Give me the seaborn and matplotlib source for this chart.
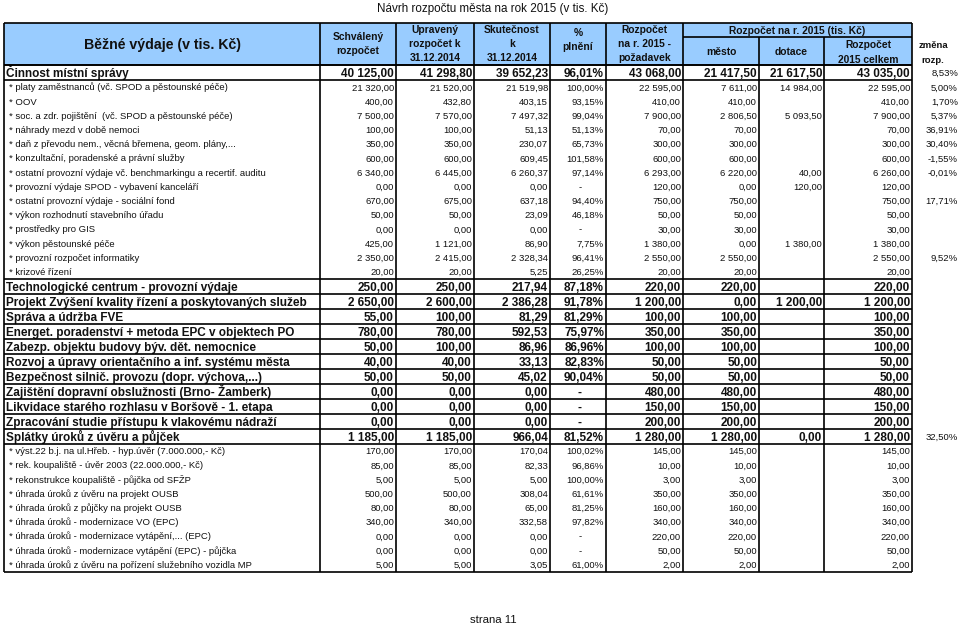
import matplotlib
matplotlib.use("Agg")
import matplotlib.pyplot as plt
import seaborn as sns
import pandas as pd

sns.set_theme(style="white")
plt.rcParams['font.family'] = ['Liberation Sans', 'DejaVu Sans']

# ---------------- data ----------------
labels = [
    "Činnost místní správy",
    "* platy zaměstnanců (vč. SPOD a pěstounské péče)",
    "* OOV",
    "* soc. a zdr. pojištění  (vč. SPOD a pěstounské péče)",
    "* náhrady mezd v době nemoci",
    "* daň z převodu nem., věcná břemena, geom. plány,...",
    "* konzultační, poradenské a právní služby",
    "* ostatní provozní výdaje vč. benchmarkingu a recertif. auditu",
    "* provozní výdaje SPOD - vybavení kanceláří",
    "* ostatní provozní výdaje - sociální fond",
    "* výkon rozhodnutí stavebního úřadu",
    "* prostředky pro GIS",
    "* výkon pěstounské péče",
    "* provozní rozpočet informatiky",
    "* krizové řízení",
    "Technologické centrum - provozní výdaje",
    "Projekt Zvýšení kvality řízení a poskytovaných služeb",
    "Správa a údržba FVE",
    "Energet. poradenství + metoda EPC v objektech PO",
    "Zabezp. objektu budovy býv. dět. nemocnice",
    "Rozvoj a úpravy orientačního a inf. systému města",
    "Bezpečnost silnič. provozu (dopr. výchova,...)",
    "Zajištění dopravní obslužnosti (Brno- Žamberk)",
    "Likvidace starého rozhlasu v Boršově - 1. etapa",
    "Zpracování studie přístupu k vlakovému nádraží",
    "Splátky úroků z úvěru a půjček",
    "* výst.22 b.j. na ul.Hřeb. - hyp.úvěr (7.000.000,- Kč)",
    "* rek. koupaliště - úvěr 2003 (22.000.000,- Kč)",
    "* rekonstrukce koupaliště - půjčka od SFŽP",
    "* úhrada úroků z úvěru na projekt OUSB",
    "* úhrada úroků z půjčky na projekt OUSB",
    "* úhrada úroků - modernizace VO (EPC)",
    "* úhrada úroků - modernizace vytápění,... (EPC)",
    "* úhrada úroků - modernizace vytápění (EPC) - půjčka",
    "* úhrada úroků z úvěru na pořízení služebního vozidla MP",
]
schvaleny = [40125.00, 21320, 400, 7500, 100, 350, 600, 6340, 0, 670, 50, 0, 425, 2350, 20,
             250, 2650, 55, 780, 50, 40, 50, 0, 0, 0, 1185,
             170, 85, 5, 500, 80, 340, 0, 0, 5]
upraveny = [41298.80, 21520, 432.80, 7570, 100, 350, 600, 6445, 0, 675, 50, 0, 1121, 2415, 20,
            250, 2600, 100, 780, 100, 40, 50, 0, 0, 0, 1185,
            170, 85, 5, 500, 80, 340, 0, 0, 5]
skutecnost = [39652.23, 21519.98, 403.15, 7497.32, 51.13, 230.07, 609.45, 6260.37, 0, 637.18, 23.09, 0,
              86.90, 2328.34, 5.25,
              217.94, 2386.28, 81.29, 592.53, 86.96, 33.13, 45.02, 0, 0, 0, 966.04,
              170.04, 82.33, 5.00, 308.04, 65.00, 332.58, 0, 0, 3.05]
plneni = [96.01, 100.00, 93.15, 99.04, 51.13, 65.73, 101.58, 97.14, None, 94.40, 46.18, None, 7.75, 96.41, 26.25,
          87.18, 91.78, 81.29, 75.97, 86.96, 82.83, 90.04, None, None, None, 81.52,
          100.02, 96.86, 100.00, 61.61, 81.25, 97.82, None, None, 61.00]
pozadavek = [43068.00, 22595, 410, 7900, 70, 300, 600, 6293, 120, 750, 50, 30, 1380, 2550, 20,
             220, 1200, 100, 350, 100, 50, 50, 480, 150, 200, 1280,
             145, 10, 3, 350, 160, 340, 220, 50, 2]
mesto = [21417.50, 7611, 410, 2806.50, 70, 300, 600, 6220, 0, 750, 50, 30, 0, 2550, 20,
         220, 0, 100, 350, 100, 50, 50, 480, 150, 200, 1280,
         145, 10, 3, 350, 160, 340, 220, 50, 2]
dotace = [21617.50, 14984, None, 5093.50, None, None, None, 40, 120, None, None, None, 1380, None, None,
          None, 1200, None, None, None, None, None, None, None, None, 0.00,
          None, None, None, None, None, None, None, None, None]
celkem = [43035.00, 22595, 410, 7900, 70, 300, 600, 6260, 120, 750, 50, 30, 1380, 2550, 20,
          220, 1200, 100, 350, 100, 50, 50, 480, 150, 200, 1280,
          145, 10, 3, 350, 160, 340, 220, 50, 2]
zmena = [8.53, 5.00, 1.70, 5.37, 36.91, 30.40, -1.55, -0.01, None, 17.71, None, None, None, 9.52, None,
         None, None, None, None, None, None, None, None, None, None, 32.50,
         None, None, None, None, None, None, None, None, None]

# row kinds (B = bold group row, S = detail row)
kinds = ['B'] + ['S'] * 14 + ['B'] * 11 + ['S'] * 9

df = pd.DataFrame({
    "label": labels, "schvaleny": schvaleny, "upraveny": upraveny,
    "skutecnost": skutecnost, "plneni": plneni, "pozadavek": pozadavek,
    "mesto": mesto, "dotace": dotace, "celkem": celkem, "zmena": zmena, "kind": kinds,
})

# ---------------- layout ----------------
col_x = [4, 320, 396, 474, 550, 606, 683, 759, 824, 912]
head_top, head_bot, head_mid = 23, 65, 37
row_h = {'B': 15.0, 'S': 14.2}
HEAD_BLUE = '#99CCFF'
INK = '#111111'


def fmt_num(v):
    if v is None or pd.isna(v):
        return ""
    s = f"{v:,.2f}"
    return s.replace(",", " ").replace(".", ",")


def fmt_pct(v):
    if v is None or pd.isna(v):
        return "-"
    return f"{v:.2f}%".replace(".", ",")


fig = plt.figure(figsize=(9.6, 6.26), dpi=100)
ax = fig.add_axes([0, 0, 1, 1])
ax.set_xlim(0, 960)
ax.set_ylim(626, 0)
ax.axis('off')


def txt(x, yc, s, fs, ha='left', weight='normal'):
    """Place text so that its cap height is centred on yc (baseline alignment)."""
    off = fs * 100 / 72 * 0.716 / 2
    ax.text(x, yc + off, s, ha=ha, va='baseline', fontsize=fs, fontweight=weight, color=INK)


# title and footer
txt(493, 8, "Návrh rozpočtu města na rok 2015 (v tis. Kč)", 8.4, ha='center')
txt(493, 619, "strana 11", 8.2, ha='center')

# header background
ax.fill_between([col_x[0], col_x[-1]], head_top, head_bot, color=HEAD_BLUE, zorder=0, linewidth=0)

hfs = 7.4
txt((col_x[0] + col_x[1]) / 2, 44, "Běžné výdaje (v tis. Kč)", 10.2, ha='center', weight='bold')
header_cells = [
    (1, ["Schválený", "rozpočet"], [36, 50]),
    (2, ["Upravený", "rozpočet k", "31.12.2014"], [29, 43, 57]),
    (3, ["Skutečnost", "k", "31.12.2014"], [29, 43, 57]),
    (4, ["%", "plnění"], [32, 46]),
    (5, ["Rozpočet", "na r. 2015 -", "požadavek"], [29, 43, 57]),
    (6, ["město"], [51]),
    (7, ["dotace"], [51]),
    (8, ["Rozpočet", "2015 celkem"], [44, 59]),
]
for ci, lines, ys in header_cells:
    cx = (col_x[ci] + col_x[ci + 1]) / 2
    for t, y in zip(lines, ys):
        txt(cx, y, t, hfs, ha='center', weight='bold')
txt((col_x[6] + col_x[9]) / 2, 30, "Rozpočet na r. 2015 (tis. Kč)", hfs, ha='center', weight='bold')
txt(933, 45, "změna", 6.8, ha='center', weight='bold')
txt(933, 60, "rozp.", 6.8, ha='center', weight='bold')

# rows
lw_out = 1.2
y = head_bot
row_tops = []
for i, r in df.iterrows():
    h = row_h[r['kind']]
    top = y
    cy = top + h / 2
    row_tops.append(top)
    bold = r['kind'] == 'B'
    fs = 8.5 if bold else 6.8
    fw = 'bold' if bold else 'normal'
    lx = col_x[0] + 2 if bold else col_x[0] + 5
    txt(lx, cy, r['label'], fs, weight=fw)
    for ci, key in [(1, 'schvaleny'), (2, 'upraveny'), (3, 'skutecnost'), (5, 'pozadavek'),
                    (6, 'mesto'), (7, 'dotace'), (8, 'celkem')]:
        txt(col_x[ci + 1] - 2, cy, fmt_num(r[key]), fs, ha='right', weight=fw)
    pv = r['plneni']
    if pv is None or pd.isna(pv):
        txt((col_x[4] + col_x[5]) / 2 + 2, cy, "-", fs, ha='center', weight=fw)
    else:
        txt(col_x[5] - 2, cy, fmt_pct(pv), fs, ha='right', weight=fw)
    zv = r['zmena']
    if not (zv is None or pd.isna(zv)):
        txt(958, cy, fmt_pct(zv), 6.8, ha='right')
    y += h
table_bot = y

# grid lines
line_kw = dict(colors='#000000', linewidth=lw_out, zorder=3)
ax.hlines([head_top, head_bot, table_bot], col_x[0], col_x[-1], **line_kw)
ax.hlines(head_mid, col_x[6], col_x[-1], **line_kw)
# borders of the bold rows
bold_lines = set()
for top, k in zip(row_tops, kinds):
    if k == 'B':
        bold_lines.add(round(top, 2))
        bold_lines.add(round(top + row_h['B'], 2))
ax.hlines(sorted(bold_lines), col_x[0], col_x[-1], **line_kw)
# verticals
for j, x in enumerate(col_x):
    start = head_mid if j in (7, 8) else head_top
    ax.vlines(x, start, table_bot, **line_kw)

fig.savefig("out.png", dpi=100, facecolor='white')
